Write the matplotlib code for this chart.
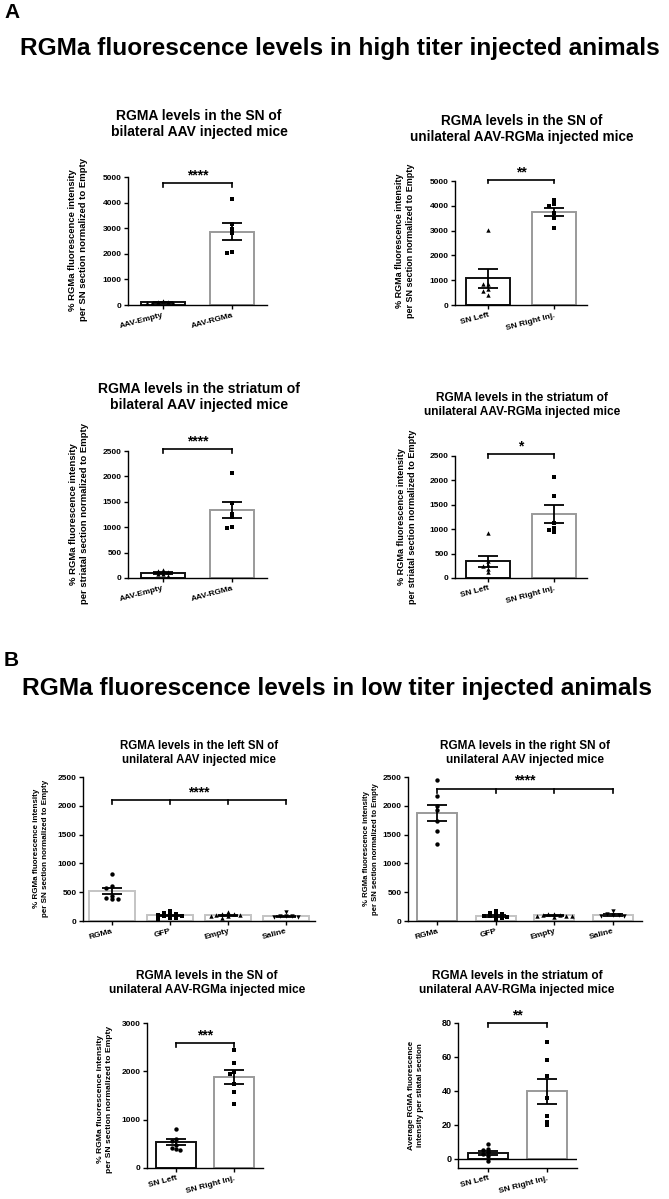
import numpy as np
import matplotlib
matplotlib.use('Agg')
import matplotlib.pyplot as plt
from matplotlib import font_manager

# ---- data ----
# A, top left: SN, bilateral
p1_labels = ['AAV-Empty', 'AAV-RGMa']
p1_means = [100, 2870]
p1_sems = [15, 325]
p1_points = [[160, 120, 100, 90, 70, 60],
             [4160, 3150, 2960, 2800, 2070, 2020]]
p1_sig = '****'

# A, top right: SN, unilateral
p2_labels = ['SN Left', 'SN Right Inj.']
p2_means = [1070, 3750]
p2_sems = [390, 175]
p2_points = [[3040, 860, 860, 650, 550, 420],
             [4220, 4090, 3980, 3710, 3520, 3105]]
p2_sig = '**'

# A, bottom left: striatum, bilateral
p3_labels = ['AAV-Empty', 'AAV-RGMa']
p3_means = [100, 1340]
p3_sems = [15, 165]
p3_points = [[150, 135, 110, 85, 75, 45],
             [2075, 1480, 1265, 1195, 1010, 990]]
p3_sig = '****'

# A, bottom right: striatum, unilateral
p4_labels = ['SN Left', 'SN Right Inj.']
p4_means = [340, 1310]
p4_sems = [120, 185]
p4_points = [[920, 350, 260, 240, 190, 120],
             [2060, 1680, 1130, 1030, 980, 940]]
p4_sig = '*'

# B, top left: left SN
p5_labels = ['RGMa', 'GFP', 'Empty', 'Saline']
p5_means = [520, 100, 100, 85]
p5_sems = [55, 12, 8, 10]
p5_points = [[820, 610, 580, 440, 400, 390, 380],
             [170, 140, 120, 110, 100, 90, 80, 60, 50, 40],
             [150, 130, 120, 110, 100, 90, 80, 60],
             [150, 95, 85, 80, 75, 70]]
p5_sig = '****'

# B, top right: right SN
p6_labels = ['RGMa', 'GFP', 'Empty', 'Saline']
p6_means = [1880, 90, 100, 110]
p6_sems = [140, 12, 7, 15]
p6_points = [[2450, 2175, 1990, 1920, 1740, 1570, 1330],
             [170, 140, 120, 100, 90, 80, 70, 50, 40],
             [130, 120, 110, 100, 95, 90, 80, 70],
             [180, 130, 110, 100, 90, 80]]
p6_sig = '****'

# B, bottom left: SN, unilateral
p7_labels = ['SN Left', 'SN Right Inj.']
p7_means = [530, 1880]
p7_sems = [60, 140]
p7_points = [[810, 590, 550, 470, 420, 400, 380],
             [2450, 2170, 1990, 1940, 1740, 1570, 1330]]
p7_sig = '***'

# B, bottom right: striatum, unilateral
p8_labels = ['SN Left', 'SN Right Inj.']
p8_means = [3.5, 39.8]
p8_sems = [1.3, 7.4]
p8_points = [[9, 6, 5, 4, 3, 1.5, -1],
             [69, 58, 49, 36, 25, 22, 20]]
p8_sig = '**'

names = {f.name for f in font_manager.fontManager.ttflist}
plt.rcParams['font.family'] = ['Liberation Sans', 'DejaVu Sans']
plt.rcParams['font.weight'] = 'bold'
big_family = ['Liberation Sans Narrow', 'Liberation Sans'] if 'Liberation Sans Narrow' in names else ['Liberation Sans']

W, H = 669, 1199
fig = plt.figure(figsize=(W / 100, H / 100), dpi=100)
fig.patch.set_facecolor('white')
renderer = fig.canvas.get_renderer()

BLACK = '#111111'
GREY = '#9a9a9a'
LIGHT = '#c4c4c4'


def fit(t, target, vertical=False):
    bb = t.get_window_extent(renderer)
    cur = bb.height if vertical else bb.width
    t.set_fontsize(t.get_fontsize() * target / cur)


def swarm(vals, dy, dx):
    cands = [0]
    for k in range(1, 8):
        cands += [-k * dx, k * dx]
    placed = []
    for v in vals:
        for c in cands:
            if all(abs(v - pv) > dy or abs(c - px) > dx * 0.9 for pv, px in placed):
                placed.append((v, c))
                break
    return np.array([p[1] for p in placed])


def fx(x):
    return x / W


def fy(y):
    return 1 - y / H


panels = [
    dict(labels=p1_labels, means=p1_means, sems=p1_sems, points=p1_points, sig=p1_sig,
         rect=(128, 267, 177, 305), ylim=(0, 5000), yticks=[0, 1000, 2000, 3000, 4000, 5000],
         bw=0.64, edges=[BLACK, GREY], markers=['^', 's'], br=4750, brx=[0, 1],
         title='RGMA levels in the SN of\nbilateral AAV injected mice', tpos=(199, 124), tw=177,
         ylabel='% RGMa fluorescence intensity\nper SN section normalized to Empty', lpos=(78, 240), lw=165),
    dict(labels=p2_labels, means=p2_means, sems=p2_sems, points=p2_points, sig=p2_sig,
         rect=(455, 587, 181, 305), ylim=(0, 5000), yticks=[0, 1000, 2000, 3000, 4000, 5000],
         bw=0.67, edges=[BLACK, GREY], markers=['^', 's'], br=5050, brx=[0, 1],
         title='RGMA levels in the SN of\nunilateral AAV-RGMa injected mice', tpos=(522, 129), tw=223,
         ylabel='% RGMa fluorescence intensity\nper SN section normalized to Empty', lpos=(405, 241), lw=158),
    dict(labels=p3_labels, means=p3_means, sems=p3_sems, points=p3_points, sig=p3_sig,
         rect=(128, 267, 451, 578), ylim=(0, 2500), yticks=[0, 500, 1000, 1500, 2000, 2500],
         bw=0.64, edges=[BLACK, GREY], markers=['^', 's'], br=2540, brx=[0, 1],
         title='RGMA levels in the striatum of\nbilateral AAV injected mice', tpos=(199, 397), tw=202,
         ylabel='% RGMa fluorescence intensity\nper striatal section normalized to Empty', lpos=(79, 514), lw=184),
    dict(labels=p4_labels, means=p4_means, sems=p4_sems, points=p4_points, sig=p4_sig,
         rect=(455, 587, 456, 578), ylim=(0, 2500), yticks=[0, 500, 1000, 1500, 2000, 2500],
         bw=0.67, edges=[BLACK, GREY], markers=['^', 's'], br=2540, brx=[0, 1],
         title='RGMA levels in the striatum of\nunilateral AAV-RGMa injected mice', tpos=(522, 405), tw=197,
         ylabel='% RGMa fluorescence intensity\nper striatal section normalized to Empty', lpos=(407, 517), lw=176),
    dict(labels=p5_labels, means=p5_means, sems=p5_sems, points=p5_points, sig=p5_sig,
         rect=(83, 315, 777, 921), ylim=(0, 2500), yticks=[0, 500, 1000, 1500, 2000, 2500],
         bw=0.78, edges=[LIGHT, LIGHT, LIGHT, LIGHT], markers=['o', 's', '^', 'v'], br=2100, brx=[0, 1, 2, 3],
         title='RGMA levels in the left SN of\nunilateral AAV injected mice', tpos=(199, 753), tw=158,
         ylabel='% RGMa fluorescence intensity\nper SN section normalized to Empty', lpos=(41, 848), lw=139),
    dict(labels=p6_labels, means=p6_means, sems=p6_sems, points=p6_points, sig=p6_sig,
         rect=(408, 642, 777, 921), ylim=(0, 2500), yticks=[0, 500, 1000, 1500, 2000, 2500],
         bw=0.68, edges=[GREY, LIGHT, LIGHT, LIGHT], markers=['o', 's', '^', 'v'], br=2300, brx=[0, 1, 2, 3],
         title='RGMA levels in the right SN of\nunilateral AAV injected mice', tpos=(525, 753), tw=170,
         ylabel='% RGMa fluorescence intensity\nper SN section normalized to Empty', lpos=(371, 849), lw=136),
    dict(labels=p7_labels, means=p7_means, sems=p7_sems, points=p7_points, sig=p7_sig,
         rect=(147, 263, 1023, 1168), ylim=(0, 3000), yticks=[0, 1000, 2000, 3000],
         bw=0.70, edges=[BLACK, GREY], markers=['o', 's'], br=2590, brx=[0, 1],
         title='RGMA levels in the SN of\nunilateral AAV-RGMa injected mice', tpos=(207, 983), tw=196,
         ylabel='% RGMa fluorescence intensity\nper SN section normalized to Empty', lpos=(105, 1099), lw=148),
    dict(labels=p8_labels, means=p8_means, sems=p8_sems, points=p8_points, sig=p8_sig,
         rect=(458, 577, 1023, 1168), ylim=(-5.3, 80), yticks=[0, 20, 40, 60, 80],
         bw=0.68, edges=[BLACK, GREY], markers=['o', 's'], br=80, brx=[0, 1],
         title='RGMA levels in the striatum of\nunilateral AAV-RGMa injected mice', tpos=(517, 983), tw=195,
         ylabel='Average RGMA fluorescence\nintensity per stiatal section', lpos=(416, 1095), lw=112),
]

for p in panels:
    x0, x1, yt, yb = p['rect']
    ax = fig.add_axes([fx(x0), fy(yb), (x1 - x0) / W, (yb - yt) / H])
    n = len(p['labels'])
    pos = np.arange(n)
    ax.bar(pos, p['means'], width=p['bw'], color='white', edgecolor=p['edges'], linewidth=1.4, zorder=1)
    rng = p['ylim'][1] - p['ylim'][0]
    for i in range(n):
        vals = np.array(p['points'][i], dtype=float)
        offs = swarm(vals, rng * 0.022, 0.075 if n == 2 else 0.1)
        ax.scatter(i + offs, vals, marker=p['markers'][i], s=10, color='black', linewidths=0,
                   zorder=3, clip_on=False)
    ax.errorbar(pos, p['means'], yerr=p['sems'], fmt='none', ecolor='black', elinewidth=1.3,
                capsize=7, capthick=1.3, zorder=4)
    if p['ylim'][0] < 0:
        # y range runs a bit below zero, so zero gets its own line
        ax.axhline(0, color='black', lw=1.0, zorder=2)
    ax.set_xlim(-0.5, n - 0.5)
    ax.set_ylim(*p['ylim'])
    ax.set_yticks(p['yticks'])
    ax.set_xticks(pos)
    ax.set_xticklabels(p['labels'], rotation=15, ha='right', rotation_mode='anchor', fontsize=6)
    for lab in ax.get_yticklabels():
        lab.set_fontsize(6 if p['ylim'][1] > 100 else 6.5)
    ax.tick_params(axis='both', length=3, width=1, pad=1.5, color='black')
    ax.tick_params(axis='x', pad=2)
    for s in ['top', 'right']:
        ax.spines[s].set_visible(False)
    for s in ['left', 'bottom']:
        ax.spines[s].set_linewidth(1.0)
    ax.set_facecolor('none')

    # significance bracket
    bx = p['brx']
    tick = rng * 0.03
    ax.plot([bx[0], bx[-1]], [p['br'], p['br']], color='black', lw=1.2, clip_on=False)
    for b in bx:
        ax.plot([b, b], [p['br'], p['br'] - tick], color='black', lw=1.2, clip_on=False)
    ax.annotate(p['sig'], xy=((bx[0] + bx[-1]) / 2, p['br']), xytext=(0, 0.5), textcoords='offset points',
                ha='center', va='bottom', fontsize=10, fontweight='bold', annotation_clip=False)

    t = fig.text(fx(p['tpos'][0]), fy(p['tpos'][1]), p['title'], ha='center', va='center',
                 fontsize=9, fontweight='bold', linespacing=1.15)
    fit(t, p['tw'])
    yl = fig.text(fx(p['lpos'][0]), fy(p['lpos'][1]), p['ylabel'], ha='center', va='center',
                  rotation=90, fontsize=6, fontweight='bold', linespacing=1.25)
    fit(yl, p['lw'], vertical=True)

fig.text(fx(4), fy(13), 'A', ha='left', va='center', fontsize=15, fontweight='bold')
ta = fig.text(fx(340), fy(48), 'RGMa fluorescence levels in high titer injected animals',
              ha='center', va='center', fontsize=18, fontweight='bold', family=big_family)
fit(ta, 637)
fig.text(fx(4), fy(660), 'B', ha='left', va='center', fontsize=15, fontweight='bold')
tb = fig.text(fx(337), fy(688), 'RGMa fluorescence levels in low titer injected animals',
              ha='center', va='center', fontsize=18, fontweight='bold', family=big_family)
fit(tb, 630)

fig.savefig('out.png', dpi=100)
